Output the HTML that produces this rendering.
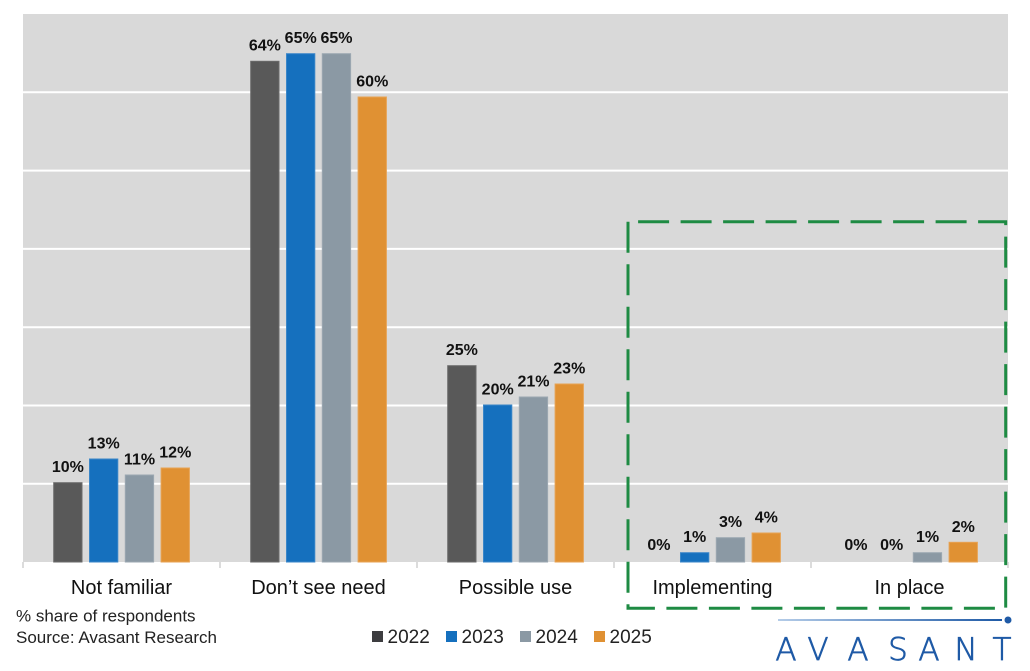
<!DOCTYPE html>
<html><head><meta charset="utf-8"><style>
html,body{margin:0;padding:0;background:#fff;}
svg{display:block;}
text{font-family:"Liberation Sans",sans-serif;}
.lab{font-size:16px;font-weight:bold;fill:#111;text-anchor:middle;}
.cat{font-size:20px;fill:#111;text-anchor:middle;}
.note{font-size:17px;fill:#222;}
.leg{font-size:19px;fill:#222;}
</style></head><body>
<svg width="1030" height="671" viewBox="0 0 1030 671" xmlns="http://www.w3.org/2000/svg">
<defs>
<linearGradient id="lg" x1="0" x2="1" y1="0" y2="0">
<stop offset="0" stop-color="#b4cce8"/><stop offset="1" stop-color="#1f5aa6"/>
</linearGradient>
</defs>
<rect x="23" y="14" width="985" height="548" fill="#d9d9d9"/>
<g stroke="#ffffff" stroke-width="2">
<line x1="23" x2="1008" y1="92.3" y2="92.3"/>
<line x1="23" x2="1008" y1="170.6" y2="170.6"/>
<line x1="23" x2="1008" y1="248.9" y2="248.9"/>
<line x1="23" x2="1008" y1="327.2" y2="327.2"/>
<line x1="23" x2="1008" y1="405.5" y2="405.5"/>
<line x1="23" x2="1008" y1="483.8" y2="483.8"/>
</g>
<g stroke="#d0d0d0" stroke-width="1.5">
<line x1="23" x2="23" y1="562" y2="568"/>
<line x1="220" x2="220" y1="562" y2="568"/>
<line x1="417" x2="417" y1="562" y2="568"/>
<line x1="614" x2="614" y1="562" y2="568"/>
<line x1="811" x2="811" y1="562" y2="568"/>
<line x1="1008" x2="1008" y1="562" y2="568"/>
</g>
<!-- bars -->
<g stroke-width="1">
<rect x="53.7" y="482.7" width="28.3" height="79.3" fill="#595959" stroke="#6a6a6a"/>
<rect x="89.5" y="459" width="28.3" height="103" fill="#1570be" stroke="#3a86c8"/>
<rect x="125.3" y="475" width="28.3" height="87" fill="#8b99a4" stroke="#9ba7b1"/>
<rect x="161.1" y="468" width="28.3" height="94" fill="#e09133" stroke="#e7a253"/>
<rect x="250.7" y="61.3" width="28.3" height="500.7" fill="#595959" stroke="#6a6a6a"/>
<rect x="286.5" y="53.7" width="28.3" height="508.3" fill="#1570be" stroke="#3a86c8"/>
<rect x="322.3" y="53.7" width="28.3" height="508.3" fill="#8b99a4" stroke="#9ba7b1"/>
<rect x="358.1" y="97" width="28.3" height="465" fill="#e09133" stroke="#e7a253"/>
<rect x="447.7" y="365.7" width="28.3" height="196.3" fill="#595959" stroke="#6a6a6a"/>
<rect x="483.5" y="405" width="28.3" height="157" fill="#1570be" stroke="#3a86c8"/>
<rect x="519.3" y="397" width="28.3" height="165" fill="#8b99a4" stroke="#9ba7b1"/>
<rect x="555.1" y="384" width="28.3" height="178" fill="#e09133" stroke="#e7a253"/>
<rect x="680.5" y="552.7" width="28.3" height="9.3" fill="#1570be" stroke="#3a86c8"/>
<rect x="716.3" y="537.7" width="28.3" height="24.3" fill="#8b99a4" stroke="#9ba7b1"/>
<rect x="752.1" y="533" width="28.3" height="29" fill="#e09133" stroke="#e7a253"/>
<rect x="913.3" y="552.7" width="28.3" height="9.3" fill="#8b99a4" stroke="#9ba7b1"/>
<rect x="949.1" y="542.3" width="28.3" height="19.7" fill="#e09133" stroke="#e7a253"/>
</g>
<!-- labels -->
<g>
<text class="lab" x="67.9" y="472">10%</text>
<text class="lab" x="103.7" y="448.5">13%</text>
<text class="lab" x="139.5" y="464.5">11%</text>
<text class="lab" x="175.3" y="457.5">12%</text>
<text class="lab" x="264.9" y="50.5">64%</text>
<text class="lab" x="300.7" y="43">65%</text>
<text class="lab" x="336.5" y="43">65%</text>
<text class="lab" x="372.3" y="86.3">60%</text>
<text class="lab" x="461.9" y="355">25%</text>
<text class="lab" x="497.7" y="394.3">20%</text>
<text class="lab" x="533.5" y="386.3">21%</text>
<text class="lab" x="569.3" y="373.3">23%</text>
<text class="lab" x="658.9" y="550">0%</text>
<text class="lab" x="694.7" y="542.2">1%</text>
<text class="lab" x="730.5" y="527.2">3%</text>
<text class="lab" x="766.3" y="522.5">4%</text>
<text class="lab" x="855.9" y="550">0%</text>
<text class="lab" x="891.7" y="550">0%</text>
<text class="lab" x="927.5" y="542.2">1%</text>
<text class="lab" x="963.3" y="531.8">2%</text>
</g>
<!-- categories -->
<text class="cat" x="121.5" y="594">Not familiar</text>
<text class="cat" x="318.5" y="594">Don’t see need</text>
<text class="cat" x="515.5" y="594">Possible use</text>
<text class="cat" x="712.5" y="594">Implementing</text>
<text class="cat" x="909.5" y="594">In place</text>
<!-- dashed box -->
<path d="M628,221.7 V608.3 H1005.7 V221.7 Z" fill="none" stroke="#1e8b43" stroke-width="3" stroke-dasharray="31 11.5"/>
<!-- notes -->
<text class="note" x="16" y="621.5">% share of respondents</text>
<text class="note" x="16" y="643">Source: Avasant Research</text>
<!-- legend -->
<rect x="372" y="631" width="11" height="11" fill="#3d3d40"/>
<text class="leg" x="387.5" y="643">2022</text>
<rect x="446" y="631" width="11" height="11" fill="#1570be"/>
<text class="leg" x="461.5" y="643">2023</text>
<rect x="520" y="631" width="11" height="11" fill="#8b99a4"/>
<text class="leg" x="535.5" y="643">2024</text>
<rect x="594" y="631" width="11" height="11" fill="#e09133"/>
<text class="leg" x="609.5" y="643">2025</text>
<!-- logo -->
<rect x="778" y="619" width="224" height="2" fill="url(#lg)"/>
<circle cx="1008" cy="620" r="3.5" fill="#1f5aa6"/>
<text x="786 818 858 898 929 966 1002" y="660" text-anchor="middle" stroke="#1f5aa6" stroke-width="0.7" style="font-family:'DejaVu Sans','Liberation Sans',sans-serif;font-weight:200;font-size:31px;fill:#1f5aa6;">AVASANT</text>
</svg>
</body></html>
